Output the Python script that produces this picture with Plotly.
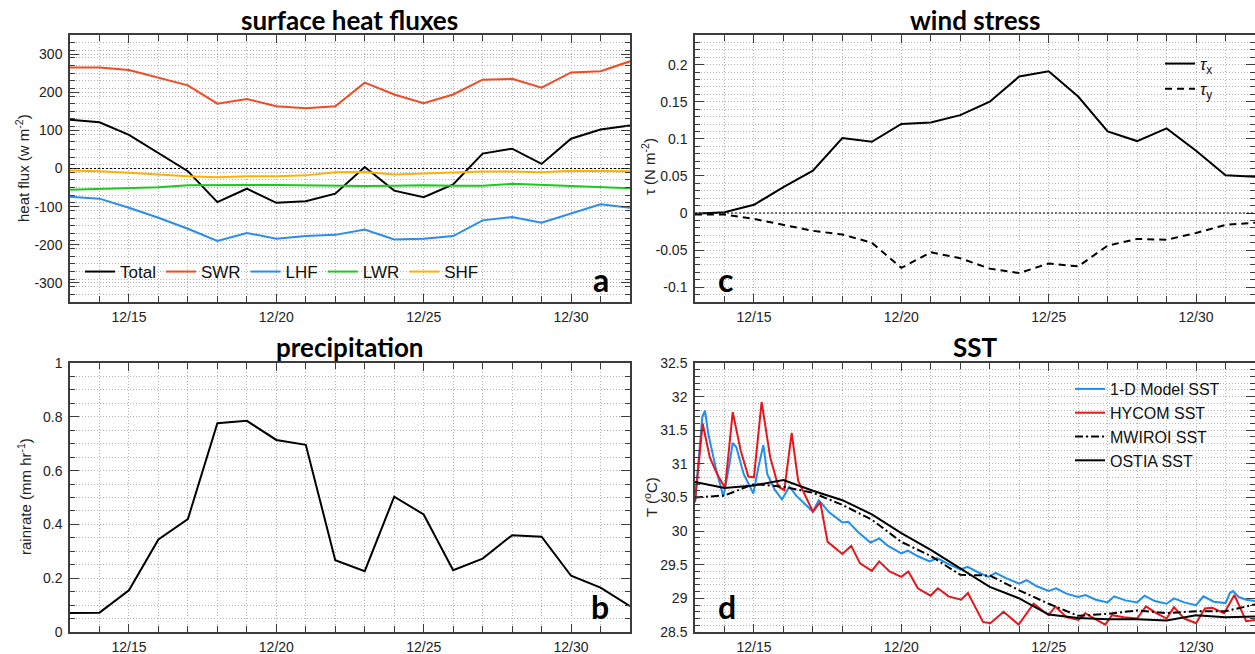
import plotly.graph_objects as go

W, H = 1255, 654

# ---------------- data ----------------
days = list(range(13, 33))  # 12/13 ... 12/32 (= 1 Jan)
x_tickvals = [15, 20, 25, 30]
x_ticktext = ["12/15", "12/20", "12/25", "12/30"]

# panel a: surface heat fluxes (W m-2)
total = [128, 121, 88, 41, -7, -88, -53, -90, -86, -66, 4, -58, -75, -42, 39, 52, 12, 78, 102, 113]
swr = [265, 265, 258, 238, 218, 170, 182, 163, 158, 163, 225, 194, 171, 194, 233, 235, 212, 252, 255, 281]
lhf = [-74, -79, -103, -129, -158, -190, -169, -184, -177, -174, -160, -186, -184, -177, -136, -127, -142, -118, -94, -103]
lwr = [-56, -53, -51, -49, -44, -43, -43, -43, -44, -44, -46, -45, -44, -45, -45, -40, -43, -45, -48, -52]
shf = [-5, -7, -11, -16, -20, -23, -20, -20, -18, -10, -9, -16, -13, -10, -8, -8, -10, -6, -7, -7]
a_ticks = [-300, -200, -100, 0, 100, 200, 300]
a_ticktext = ["-300", "-200", "-100", "0", "100", "200", "300"]

# panel b: precipitation (mm hr-1)
rain = [0.071, 0.072, 0.155, 0.344, 0.42, 0.776, 0.785, 0.714, 0.696, 0.267, 0.226, 0.503, 0.437,
        0.23, 0.273, 0.36, 0.354, 0.209, 0.165, 0.096]
b_ticks = [0, 0.2, 0.4, 0.6, 0.8, 1]
b_ticktext = ["0", "0.2", "0.4", "0.6", "0.8", "1"]

# panel c: wind stress (N m-2)
taux = [-0.001, 0.001, 0.011, 0.035, 0.057, 0.101, 0.096, 0.120, 0.122, 0.132, 0.150, 0.184, 0.191,
        0.157, 0.110, 0.097, 0.114, 0.084, 0.051, 0.049]
tauy = [-0.002, -0.002, -0.008, -0.016, -0.024, -0.029, -0.040, -0.074, -0.053, -0.061, -0.075, -0.081,
        -0.068, -0.072, -0.044, -0.035, -0.036, -0.027, -0.016, -0.013]
c_ticks = [-0.1, -0.05, 0, 0.05, 0.1, 0.15, 0.2]
c_ticktext = ["-0.1", "-0.05", "0", "0.05", "0.1", "0.15", "0.2"]

# panel d: SST (deg C)
ostia = [30.73, 30.64, 30.68, 30.76, 30.60, 30.46, 30.25, 29.97, 29.72, 29.44, 29.17, 29.00, 28.76,
         28.71, 28.69, 28.69, 28.67, 28.75, 28.72, 28.73]
mwiroi = [30.50, 30.53, 30.70, 30.66, 30.57, 30.39, 30.17, 29.84, 29.63, 29.35, 29.34, 29.12, 28.92,
          28.74, 28.77, 28.82, 28.78, 28.81, 28.81, 28.91]
model_t = [13.00, 13.25, 13.34, 13.45, 13.70, 13.96, 14.15, 14.28, 14.40, 14.65, 14.98, 15.15, 15.32,
           15.45, 15.70, 15.95, 16.20, 16.45, 17.00, 17.20, 17.55, 18.00, 18.20, 18.55, 18.95, 19.25,
           19.55, 20.00, 20.22, 20.55, 20.96, 21.22, 21.55, 22.00, 22.25, 22.55, 22.95, 23.20, 23.55,
           24.00, 24.25, 24.60, 25.00, 25.25, 25.60, 26.00, 26.25, 26.60, 27.00, 27.22, 27.60, 28.00,
           28.25, 28.60, 29.00, 29.25, 29.60, 30.00, 30.25, 30.60, 31.00, 31.15, 31.25, 31.45, 31.70, 32.00]
model_sst = [30.44, 31.70, 31.79, 31.45, 30.95, 30.51, 30.95, 31.31, 31.25, 30.85, 30.56, 30.95, 31.28,
             30.85, 30.62, 30.47, 30.66, 30.52, 30.29, 30.46, 30.28, 30.13, 30.14, 29.98, 29.83, 29.89,
             29.78, 29.67, 29.71, 29.63, 29.55, 29.60, 29.52, 29.43, 29.47, 29.40, 29.32, 29.38, 29.30,
             29.22, 29.27, 29.18, 29.11, 29.15, 29.07, 29.02, 29.05, 28.98, 28.94, 29.03, 28.97, 28.94,
             29.04, 28.96, 28.92, 29.00, 28.94, 28.90, 29.03, 28.95, 28.93, 29.08, 29.11, 29.02, 28.98, 28.96]
hycom_t = [13.00, 13.26, 13.50, 13.75, 14.02, 14.28, 14.55, 14.81, 15.00, 15.26, 15.55, 15.83, 16.03,
           16.28, 16.50, 17.00, 17.25, 17.50, 18.00, 18.30, 18.60, 19.00, 19.25, 19.60, 20.00, 20.24,
           20.56, 20.99, 21.24, 21.60, 22.03, 22.26, 22.77, 23.02, 23.47, 23.98, 24.49, 25.00, 25.23,
           25.60, 26.01, 26.24, 26.55, 26.92, 27.15, 27.55, 28.00, 28.30, 28.65, 29.00, 29.25, 29.60,
           30.00, 30.30, 30.55, 30.95, 31.30, 31.70, 32.00]
hycom_sst = [30.43, 31.60, 31.10, 30.85, 30.64, 31.77, 31.20, 30.81, 30.80, 31.92, 31.10, 30.66, 30.61,
             31.46, 30.75, 30.29, 30.43, 29.84, 29.66, 29.78, 29.52, 29.41, 29.55, 29.40, 29.32, 29.40,
             29.15, 29.04, 29.15, 29.03, 28.98, 29.08, 28.65, 28.63, 28.80, 28.61, 28.92, 28.75, 28.88,
             28.72, 28.68, 28.78, 28.70, 28.61, 28.75, 28.72, 28.70, 28.88, 28.78, 28.70, 28.87, 28.70,
             28.63, 28.85, 28.86, 28.78, 29.05, 28.66, 28.68]
d_ticks = [28.5, 29, 29.5, 30, 30.5, 31, 31.5, 32, 32.5]
d_ticktext = ["28.5", "29", "29.5", "30", "30.5", "31", "31.5", "32", "32.5"]

# ---------------- style ----------------
FONT = "Liberation Sans, Arial, sans-serif"
TFONT = "Lato, Calibri, sans-serif"
AX = "#3c3c3c"
GRID = "#b4b4b4"
GDASH = "1px,2px"
C_TOTAL = "#000000"
C_SWR = "#f24a22"
C_LHF = "#2a8cf0"
C_LWR = "#1ec81e"
C_SHF = "#ffb000"
C_MODEL = "#1f8ff0"
C_HYCOM = "#e8161b"


def px_x(p):
    return p / W


def px_y(p):
    return 1 - p / H


xa_dom = [px_x(70), px_x(630)]
xc_dom = [px_x(695), 1.0]
ytop_dom = [px_y(302), px_y(35)]
ybot_dom = [px_y(632), px_y(363)]

fig = go.Figure()


def add(x, y, name, color, xa, ya, legend, dash="solid", show=True, group=None, width=2):
    fig.add_trace(go.Scatter(
        x=x, y=y, mode="lines", name=name,
        line=dict(color=color, width=width, dash=dash),
        xaxis=xa, yaxis=ya, legend=legend, showlegend=show, legendgroup=group,
        hoverinfo="x+y+name",
    ))


# panel a
add(days, total, "Total", C_TOTAL, "x", "y", "legend")
add(days, swr, "SWR", C_SWR, "x", "y", "legend")
add(days, lhf, "LHF", C_LHF, "x", "y", "legend")
add(days, lwr, "LWR", C_LWR, "x", "y", "legend")
add(days, shf, "SHF", C_SHF, "x", "y", "legend")
# panel c
add(days, taux, "<i>τ</i><sub>x</sub>", "#000000", "x2", "y2", "legend2", group="tx")
add(days, tauy, "<i>τ</i><sub>y</sub>", "#000000", "x2", "y2", "legend2", dash="7px,5px", group="ty")
# panel b
add(days, rain, "rainrate", "#000000", "x3", "y3", "legend", show=False)
# panel d
add(model_t, model_sst, "1-D Model SST", C_MODEL, "x4", "y4", "legend3")
add(hycom_t, hycom_sst, "HYCOM SST", C_HYCOM, "x4", "y4", "legend3")
add(days, mwiroi, "MWIROI SST", "#000000", "x4", "y4", "legend3", dash="8px,3px,2px,3px")
add(days, ostia, "OSTIA SST", "#000000", "x4", "y4", "legend3")


def xaxis(domain, anchor):
    return dict(
        domain=domain, anchor=anchor, range=[13, 32],
        tickmode="array", tickvals=x_tickvals, ticktext=x_ticktext,
        ticks="inside", ticklen=8, tickwidth=1, tickcolor=AX,
        showline=True, linewidth=1.5, linecolor=AX, mirror="ticks",
        showgrid=True, gridcolor=GRID, griddash=GDASH, gridwidth=1, zeroline=False,
        minor=dict(tickmode="linear", tick0=13, dtick=1, ticks="inside", ticklen=6,
                   tickcolor=AX, showgrid=True, gridcolor=GRID, griddash=GDASH),
        tickfont=dict(size=14, color="#222222", family=FONT),
        ticklabelstandoff=1, automargin=False, fixedrange=True,
    )


def yaxis(domain, anchor, rng, vals, text, mdt):
    return dict(
        domain=domain, anchor=anchor, range=rng,
        tickmode="array", tickvals=vals, ticktext=text,
        ticks="inside", ticklen=9, tickwidth=1, tickcolor=AX,
        showline=True, linewidth=1.5, linecolor=AX, mirror="ticks",
        showgrid=True, gridcolor=GRID, griddash=GDASH, gridwidth=1, zeroline=False,
        minor=dict(tickmode="linear", tick0=rng[0], dtick=mdt, ticks="inside", ticklen=5,
                   tickcolor=AX, showgrid=True, gridcolor=GRID, griddash=GDASH),
        tickfont=dict(size=14, color="#222222", family=FONT),
        ticklabelstandoff=3, automargin=False, fixedrange=True,
    )


fig.update_layout(
    width=W, height=H,
    margin=dict(l=0, r=0, t=0, b=0),
    paper_bgcolor="white", plot_bgcolor="white",
    font=dict(family=FONT, color="#222222"),
    xaxis=xaxis(xa_dom, "y"),
    yaxis=yaxis(ytop_dom, "x", [-350, 350], a_ticks, a_ticktext, 20),
    xaxis2=xaxis(xc_dom, "y2"),
    yaxis2=yaxis(ytop_dom, "x2", [-0.12, 0.24], c_ticks, c_ticktext, 0.01),
    xaxis3=xaxis(xa_dom, "y3"),
    yaxis3=yaxis(ybot_dom, "x3", [0, 1], b_ticks, b_ticktext, 0.05),
    xaxis4=xaxis(xc_dom, "y4"),
    yaxis4=yaxis(ybot_dom, "x4", [28.5, 32.5], d_ticks, d_ticktext, 0.1),
    legend=dict(orientation="h", x=px_x(80), y=px_y(272), xanchor="left", yanchor="middle",
                bgcolor="rgba(0,0,0,0)", font=dict(size=17, family=FONT, color="#111111"),
                itemclick=False, itemdoubleclick=False),
    legend2=dict(orientation="v", x=px_x(1160), y=px_y(46), xanchor="left", yanchor="top",
                 bgcolor="rgba(0,0,0,0)", font=dict(size=17, family=FONT, color="#111111"),
                 tracegroupgap=0, itemclick=False, itemdoubleclick=False),
    legend3=dict(orientation="v", x=px_x(1070), y=px_y(372), xanchor="left", yanchor="top",
                 bgcolor="rgba(0,0,0,0)", font=dict(size=16, family=FONT, color="#111111"),
                 itemclick=False, itemdoubleclick=False),
    showlegend=True,
)

# zero reference lines
for xr, yr in (("x", "y"), ("x2", "y2")):
    fig.add_shape(type="line", xref=f"{xr} domain", yref=yr, x0=0, x1=1, y0=0, y1=0,
                  line=dict(color="#000000", width=1, dash="2px,2px"), layer="above")

# y-axis titles
ytitles = [("heat flux (w m<sup>-2</sup>)", 22, 168), ("τ (N m<sup>-2</sup>)", 648, 167),
           ("rainrate (mm hr<sup>-1</sup>)", 24, 497), ("T (<sup>o</sup>C)", 650, 497)]
for txt, xp, yp in ytitles:
    fig.add_annotation(text=txt, x=px_x(xp), y=px_y(yp), xref="paper", yref="paper",
                       xanchor="center", yanchor="middle", showarrow=False, textangle=-90,
                       font=dict(family=FONT, size=15, color="#222222"))

# panel titles
titles = [("surface heat fluxes", 350, 20), ("wind stress", 975, 20),
          ("precipitation", 350, 347), ("SST", 975, 347)]
for txt, xp, yp in titles:
    fig.add_annotation(text=txt, x=px_x(xp), y=px_y(yp), xref="paper", yref="paper",
                       xanchor="center", yanchor="middle", showarrow=False,
                       font=dict(family=TFONT, size=26, color="#000000", weight="bold"))

# panel letters
letters = [("a", 601, 279), ("c", 725, 279), ("b", 600, 606), ("d", 727, 606)]
for txt, xp, yp in letters:
    fig.add_annotation(text=txt, x=px_x(xp), y=px_y(yp), xref="paper", yref="paper",
                       xanchor="center", yanchor="middle", showarrow=False,
                       font=dict(family=TFONT, size=32, color="#000000", weight="bold"))

fig.write_html("out.html")
